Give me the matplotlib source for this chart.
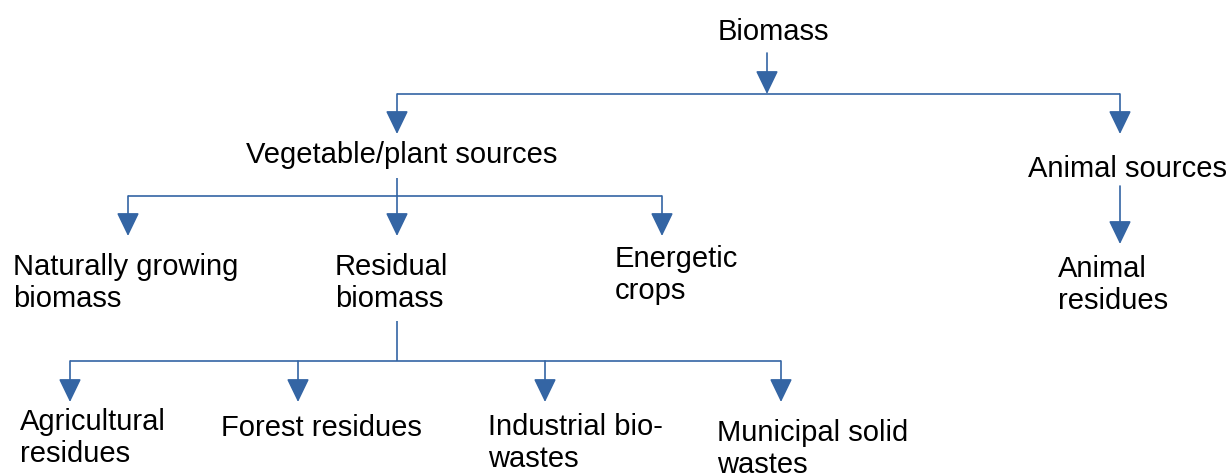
import matplotlib
matplotlib.use("Agg")
import matplotlib.pyplot as plt

# ---- data: node labels ----
root_label = "Biomass"
level1_labels = ["Vegetable/plant sources", "Animal sources"]
plant_labels = ["Naturally growing\nbiomass", "Residual\nbiomass", "Energetic\ncrops"]
animal_labels = ["Animal\nresidues"]
residual_labels = ["Agricultural\nresidues", "Forest residues", "Industrial bio-\nwastes",
                   "Municipal solid\nwastes"]

# ---- layout (pixel coordinates) ----
W, H = 1232, 477
fig = plt.figure(figsize=(W / 100, H / 100), dpi=100)
ax = fig.add_axes([0, 0, 1, 1])
ax.set_xlim(0, W)
ax.set_ylim(H, 0)
ax.axis("off")

LC = "#3465a4"
LW = 1.2
FS = 21
FONT = ["Liberation Sans", "DejaVu Sans"]
LS = 1.2


def text(x, y, s, ha="left"):
    ax.text(x, y, s, ha=ha, va="top", fontsize=FS, family=FONT, color="black",
            linespacing=LS)


def line(x0, y0, x1, y1):
    ax.plot([x0, x1], [y0, y1], color=LC, lw=LW, solid_capstyle="butt")


def arrow(x, y0, y1):
    ax.annotate("", xy=(x, y1), xytext=(x, y0),
                arrowprops=dict(arrowstyle="-|>,head_length=1.45,head_width=0.7",
                                mutation_scale=10, color=LC, lw=LW,
                                shrinkA=0, shrinkB=0))


# root
text(773, 18, root_label, ha="center")
arrow(767, 54, 95)
line(397, 95, 1120, 95)
arrow(397, 95, 135)
arrow(1120, 95, 135)

# level 1
text(402, 141, level1_labels[0], ha="center")
text(1128, 155, level1_labels[1], ha="center")

# plant branch
line(397, 179, 397, 197)
line(128, 197, 662, 197)
plant_x = [128, 397, 662]
for px in plant_x:
    arrow(px, 197, 237)
plant_text = [(13, 253), (335, 253), (615, 245)]
for (tx, ty), lab in zip(plant_text, plant_labels):
    text(tx, ty, lab)

# animal branch
arrow(1120, 187, 245)
text(1058, 255, animal_labels[0])

# residual branch
line(397, 322, 397, 362)
line(70, 362, 781, 362)
res_x = [70, 298, 545, 781]
for rx in res_x:
    arrow(rx, 362, 403)
res_text = [(20, 408), (221, 414), (488, 413), (717, 419)]
for (tx, ty), lab in zip(res_text, residual_labels):
    text(tx, ty, lab)

fig.savefig("out.png", dpi=100, facecolor="white")
